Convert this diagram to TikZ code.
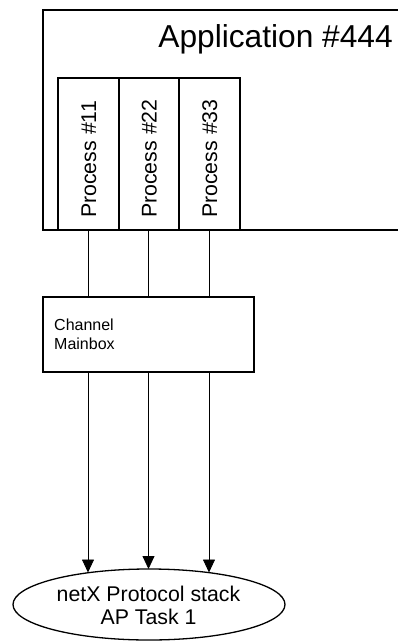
\documentclass[tikz,border=0pt]{standalone}
\usepackage{fontspec}
\setmainfont{Liberation Sans}
\usetikzlibrary{shapes.geometric,arrows.meta}
\begin{document}
\begin{tikzpicture}[x=1pt,y=-1pt,
  boxline/.style={draw=black,line width=1.6pt},
  procbox/.style={boxline,rectangle,minimum width=61pt,minimum height=152pt,inner sep=0pt},
  conn/.style={draw=black,line width=0.8pt},
  arr/.style={conn,-{Triangle[width=12pt,length=13pt]}},
  proctext/.style={rotate=90,anchor=base west,inner sep=0pt,font=\fontsize{21.3}{25}\selectfont},
]
\useasboundingbox (0,0) rectangle (398,642);
\clip (0,0) rectangle (398,642);
% application box (extends beyond right edge)
\draw[boxline] (410,10) -- (43,10) -- (43,230) -- (410,230);
\node[anchor=base east,inner sep=0pt,font=\fontsize{31.7}{36}\selectfont] (title) at (393,48) {Application \#444};
% process boxes
\node[procbox] (p1) at (88.5,154) {};
\node[procbox] (p2) at (149,154) {};
\node[procbox] (p3) at (209.5,154) {};
\node[proctext] (t1) at (96,218) {Process \#11};
\node[proctext] (t2) at (156.5,218) {Process \#22};
\node[proctext] (t3) at (217,218) {Process \#33};
% channel mainbox
\node[boxline,rectangle,minimum width=211pt,minimum height=75pt,inner sep=0pt] (mb) at (148.5,334.5) {};
\node[anchor=base west,inner sep=0pt,font=\fontsize{16}{18.4}\selectfont] (mbt1) at (54,330.7) {Channel};
\node[anchor=base west,inner sep=0pt,font=\fontsize{16}{18.4}\selectfont] (mbt2) at (54,349) {Mainbox};
% ellipse
\node[draw=black,line width=1.3pt,ellipse,minimum width=272pt,minimum height=71pt,inner sep=0pt] (ell) at (149,604.5) {};
\node[anchor=base,inner sep=0pt,font=\fontsize{21.3}{23}\selectfont] (et1) at (148.5,601) {netX Protocol stack};
\node[anchor=base,inner sep=0pt,font=\fontsize{21.3}{23}\selectfont] (et2) at (148.5,624) {AP Task 1};
% connectors
\coordinate (a1) at (88,230);
\coordinate (a2) at (148.5,230);
\coordinate (a3) at (209,230);
\coordinate (e1) at (88,572.5);
\coordinate (e2) at (148.5,569);
\coordinate (e3) at (209,572.5);
\draw[conn] (a1) -- (a1 |- mb.north);
\draw[conn] (a2) -- (a2 |- mb.north);
\draw[conn] (a3) -- (a3 |- mb.north);
\draw[arr] (a1 |- mb.south) -- (e1);
\draw[arr] (a2 |- mb.south) -- (e2);
\draw[arr] (a3 |- mb.south) -- (e3);
\end{tikzpicture}
\end{document}
